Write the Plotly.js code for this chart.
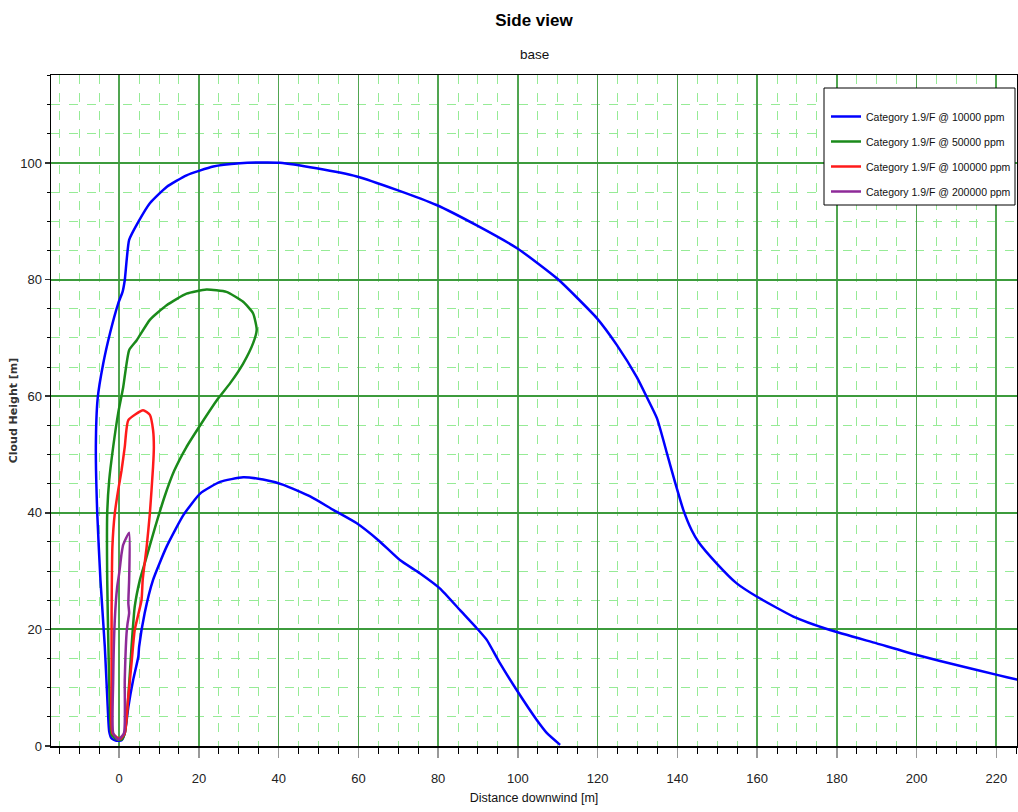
<!DOCTYPE html>
<html>
<head>
<meta charset="utf-8">
<script src="https://cdn.plot.ly/plotly-3.0.1.min.js"></script>
<style>html,body{margin:0;padding:0;background:#fff;}#chart{width:1018px;height:812px;}</style>
</head>
<body>
<div id="chart"></div>
<script>
// ---- Data ----
const seriesNames = [
  "Category 1.9/F @ 10000 ppm",
  "Category 1.9/F @ 50000 ppm",
  "Category 1.9/F @ 100000 ppm",
  "Category 1.9/F @ 200000 ppm"
];

const blueX = [110.6,107.3,104.7,99.7,95.5,92.2,89.7,85.5,80.5,75.5,70.4,65.0,59.6,53.7,47.9,41.2,36.1,31.1,25.3,20.3,16.1,11.9,8.5,6.4,5.0,4.8,3.5,2.3,1.4,0.6,-0.65,-1.9,-2.5,-2.8,-3.6,-4.7,-5.5,-5.85,-5.4,-4.0,-2.3,-0.25,0.85,1.4,2.5,4.8,7.7,11.9,16.9,23.6,30.3,36.0,40.3,49.5,59.6,69.6,79.6,89.7,100.0,110.0,119.8,124.8,129.8,132.3,134.9,137.4,139.4,141.5,143.6,145.3,149.9,154.9,160.0,169.1,178.3,190.0,200.1,211.8,220.2,225.2,230.0];
const blueY = [0.2,2.2,4.5,9.6,14.2,18.2,20.2,23.3,27.0,29.6,31.9,35.3,38.2,40.5,42.8,44.8,45.7,46.1,45.3,43.3,39.6,34.2,28.5,22.8,17.0,15.3,11.3,6.7,2.2,1.0,0.9,1.3,2.5,5.6,17.0,28.5,39.9,51.3,59.6,65.6,70.8,75.9,77.9,79.9,86.8,89.9,93.1,95.9,97.9,99.4,99.95,100.1,100.05,99.1,97.7,95.4,92.8,89.3,85.3,80.1,73.4,68.8,63.3,59.9,56.2,50.2,45.3,40.5,37.0,35.0,31.3,27.9,25.6,22.2,19.9,17.6,15.6,13.6,12.2,11.4,10.7];

const greenX = [-0.5,-1.9,-2.3,-2.7,-3.0,-3.0,-2.5,-1.5,-0.25,1.0,2.5,4.4,7.7,11.9,16.9,21.9,26.9,31.1,33.6,34.5,33.6,31.1,27.8,24.8,20.5,16.8,13.8,11.4,9.0,6.6,5.2,3.9,3.1,2.3,1.4,0.6,-0.5];
const greenY = [1.1,1.9,5.6,17.0,28.5,39.9,45.6,51.3,57.1,61.5,67.9,69.6,73.1,75.6,77.6,78.3,77.9,76.2,74.2,71.4,69.1,65.6,62.2,59.6,55.2,51.2,47.2,42.8,37.5,31.8,28.5,23.9,17.0,8.5,2.2,1.1,1.1];

const redX = [0.2,-1.7,-1.9,-1.9,-1.7,-1.1,-0.25,0.6,1.4,2.3,6.0,7.7,8.5,8.7,8.5,7.7,6.9,5.9,5.6,3.9,3.1,2.3,1.4,0.2];
const redY = [1.2,2.2,11.3,22.8,34.2,39.9,43.9,47.3,51.3,55.9,57.6,56.8,54.2,51.3,47.9,39.9,34.2,28.5,25.0,19.9,14.2,8.5,2.2,1.2];

const purpleX = [-0.25,-1.5,-1.5,-1.1,-0.5,0.0,0.6,1.0,2.5,2.5,2.3,2.5,2.1,1.85,1.4,1.2,-0.25];
const purpleY = [1.1,2.2,11.3,21.6,27.3,29.6,33.0,34.5,36.6,28.5,24.5,22.8,21.0,19.3,11.3,2.2,1.1];

const seriesColors = ["#0000ff", "#1a8a1a", "#ff1a1a", "#8e2a98"];

// ---- Chart ----
const xs = [blueX, greenX, redX, purpleX];
const ys = [blueY, greenY, redY, purpleY];
const traces = xs.map((x, i) => ({
  x: x, y: ys[i], type: 'scatter', mode: 'lines', name: seriesNames[i],
  legendgroup: 'g' + i,
  line: {color: seriesColors[i], width: 2.5, shape: 'spline', smoothing: 0.5},
  hoverinfo: 'x+y+name'
}));

const W = 1018, H = 812;
const mL = 51, mR = 1, mT = 75, mB = 66;
const pw = W - mL - mR, ph = H - mT - mB;
const px = v => (v - mL) / pw;
const py = v => (H - mB - v) / ph;
const FONT = 'Liberation Sans, Arial, sans-serif';

const layout = {
  width: W, height: H,
  margin: {l: mL, r: mR, t: mT, b: mB, pad: 0, autoexpand: false},
  paper_bgcolor: '#ffffff', plot_bgcolor: '#ffffff',
  font: {family: FONT, size: 13, color: '#222'},
  title: {
    text: '<b>Side view</b>',
    font: {family: FONT, size: 17, color: '#000'},
    x: 0.5, xref: 'paper', xanchor: 'center',
    y: 1 - 20 / H, yref: 'container', yanchor: 'middle'
  },
  showlegend: true,
  legend: {
    x: px(826), y: py(102), xanchor: 'left', yanchor: 'top',
    bgcolor: 'rgba(0,0,0,0)', borderwidth: 0,
    font: {family: FONT, size: 10.5, color: '#111'},
    traceorder: 'grouped', tracegroupgap: 6,
    itemwidth: 30
  },
  xaxis: {
    range: [-17.1, 225.2], autorange: false,
    tick0: 0, dtick: 20,
    showgrid: true, gridcolor: 'rgb(80,165,80)', gridwidth: 1.6,
    zeroline: false,
    showline: true, linecolor: '#000', linewidth: 1.5, mirror: true,
    ticks: 'outside', ticklen: 10, tickcolor: '#999', tickwidth: 1.5,
    ticklabelstandoff: 10,
    tickfont: {family: FONT, size: 13, color: '#222'},
    minor: {tick0: 0, dtick: 5, showgrid: true, gridcolor: 'rgb(150,235,150)', griddash: 'dash', gridwidth: 1,
            ticks: 'outside', ticklen: 6, tickcolor: '#000', tickwidth: 1},
    title: {text: 'Distance downwind [m]', standoff: 8,
            font: {family: FONT, size: 12.5, color: '#111'}},
    automargin: false
  },
  yaxis: {
    range: [0, 115.1], autorange: false,
    tick0: 0, dtick: 20,
    showgrid: true, gridcolor: 'rgb(60,155,60)', gridwidth: 2,
    zeroline: false,
    showline: true, linecolor: '#000', linewidth: 1.5, mirror: true,
    ticks: 'outside', ticklen: 5, tickcolor: '#333', tickwidth: 1.5,
    tickfont: {family: FONT, size: 13, color: '#222'},
    minor: {tick0: 0, dtick: 5, showgrid: true, gridcolor: 'rgb(150,235,150)', griddash: 'dash', gridwidth: 1,
            ticks: 'outside', ticklen: 3, tickcolor: '#000', tickwidth: 1},
    title: {text: '<b>Cloud Height [m]</b>', standoff: 0,
            font: {family: 'DejaVu Sans, Verdana, sans-serif', size: 11, color: '#333'}},
    automargin: true
  },
  shapes: [{
    type: 'rect', xref: 'paper', yref: 'paper',
    x0: px(824), x1: px(1015), y0: py(205), y1: py(88),
    line: {color: '#000', width: 1}, fillcolor: '#ffffff', layer: 'above'
  }],
  annotations: [{
    text: 'base', xref: 'paper', yref: 'paper', x: 0.5, y: py(55),
    xanchor: 'center', yanchor: 'middle', showarrow: false,
    font: {family: FONT, size: 13.5, color: '#111'}
  }]
};

Plotly.newPlot('chart', traces, layout, {displayModeBar: false, staticPlot: true});
</script>
</body>
</html>
